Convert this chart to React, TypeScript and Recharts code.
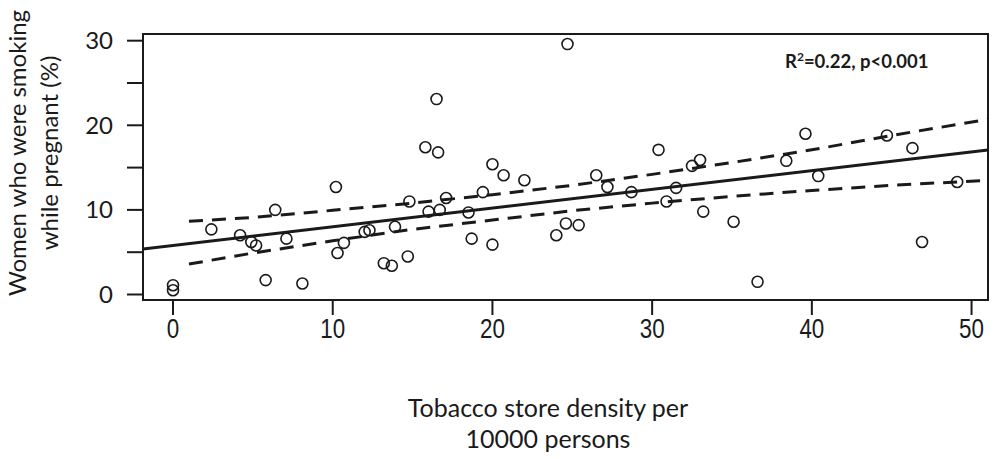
import React from 'react';
import { ScatterChart, Scatter, XAxis, YAxis, ReferenceArea } from 'recharts';

// tobacco store density per 10000 persons (x) vs % women smoking while pregnant (y)
const density = [
  0, 0, 2.4, 4.2, 4.9, 5.2, 5.8, 6.4, 7.1, 8.1,
  10.2, 10.3, 10.7, 12.0, 12.3, 13.2, 13.7, 13.9, 14.7, 14.8,
  15.8, 16.0, 16.5, 16.6, 16.7, 17.1, 18.5, 18.7, 19.4, 20.0,
  20.0, 20.7, 22.0, 24.0, 24.6, 24.7, 25.4, 26.5, 27.2, 28.7,
  30.4, 30.9, 31.5, 32.5, 33.0, 33.2, 35.1, 36.6, 38.4, 39.6,
  40.4, 44.7, 46.3, 46.9, 49.1,
];
const smoking = [
  1.1, 0.5, 7.7, 7.0, 6.2, 5.8, 1.7, 10.0, 6.6, 1.3,
  12.7, 4.9, 6.1, 7.4, 7.6, 3.7, 3.4, 8.0, 4.5, 11.0,
  17.4, 9.8, 23.1, 16.8, 10.0, 11.4, 9.7, 6.6, 12.1, 15.4,
  5.9, 14.1, 13.5, 7.0, 8.4, 29.6, 8.2, 14.1, 12.7, 12.1,
  17.1, 11.0, 12.6, 15.2, 15.9, 9.8, 8.6, 1.5, 15.8, 19.0,
  14.0, 18.8, 17.3, 6.2, 13.3,
];

// fitted line and confidence band
const fitX = [-1.88, 51.03];
const fitY = [5.38, 17.08];
const bandX = [1, 5, 10, 15, 20, 25, 30, 35, 40, 45, 51.03];
const bandUpper = [8.65, 9.1, 9.95, 10.8, 11.8, 12.9, 14.2, 15.6, 17.1, 18.8, 20.7];
const bandLower = [3.6, 4.9, 6.35, 7.7, 8.8, 9.9, 10.8, 11.6, 12.3, 12.9, 13.5];

const xTicks = [0, 10, 20, 30, 40, 50];
const yTicks = [0, 5, 10, 15, 20, 25, 30];

const X_DOMAIN: [number, number] = [-1.88, 51.03];
const Y_DOMAIN: [number, number] = [-0.65, 30.79];

const points = density.map((x, i) => ({ x, y: smoking[i] }));
const fit = fitX.map((x, i) => ({ x, y: fitY[i] }));
const upper = bandX.map((x, i) => ({ x, y: bandUpper[i] }));
const lower = bandX.map((x, i) => ({ x, y: bandLower[i] }));

const INK = '#1a1a1a';
const LABEL_FONT = 'Lato, "Open Sans", sans-serif';

const OpenCircle = (props: any) => (
  <circle cx={props.cx} cy={props.cy} r={5.5} fill="none" stroke={INK} strokeWidth={1.6} />
);
const NoDot = () => <g />;

// narrow, tall digits like the original x axis
const NarrowTick = (props: any) => {
  const { x, y, payload } = props;
  return (
    <text
      transform={`translate(${x},${y}) scale(0.8,1)`}
      textAnchor="middle"
      dy="0.71em"
      fontSize={28}
      fontFamily='"Liberation Sans", Arial, sans-serif'
      fill={INK}
    >
      {payload.value}
    </text>
  );
};

export default function App() {
  return (
    <div style={{ position: 'absolute', left: 0, top: 0, width: 993, height: 459, background: '#fff' }}>
      <ScatterChart width={993} height={459} margin={{ top: 34, right: 5, bottom: 119, left: 83 }}>
        <XAxis
          type="number"
          dataKey="x"
          domain={X_DOMAIN}
          allowDataOverflow
          ticks={xTicks}
          height={40}
          axisLine={false}
          tickSize={15}
          tickMargin={3}
          tickLine={{ stroke: INK, strokeWidth: 2 }}
          tick={NarrowTick}
        />
        <YAxis
          type="number"
          dataKey="y"
          domain={Y_DOMAIN}
          allowDataOverflow
          ticks={yTicks}
          width={60}
          axisLine={false}
          tickSize={16}
          tickMargin={14}
          tickLine={{ stroke: INK, strokeWidth: 2 }}
          tickFormatter={(v: number) => (v % 10 === 0 ? String(v) : '')}
          tick={{ fill: INK, fontSize: 24, fontFamily: LABEL_FONT }}
        />
        <ReferenceArea
          x1={X_DOMAIN[0]}
          x2={X_DOMAIN[1]}
          y1={Y_DOMAIN[0]}
          y2={Y_DOMAIN[1]}
          fill="none"
          stroke={INK}
          strokeWidth={2}
          ifOverflow="visible"
        />
        <Scatter
          data={upper}
          shape={NoDot}
          line={{ stroke: INK, strokeWidth: 3, strokeDasharray: '14 9' }}
          isAnimationActive={false}
        />
        <Scatter
          data={lower}
          shape={NoDot}
          line={{ stroke: INK, strokeWidth: 3, strokeDasharray: '14 9' }}
          isAnimationActive={false}
        />
        <Scatter data={fit} shape={NoDot} line={{ stroke: INK, strokeWidth: 3 }} isAnimationActive={false} />
        <Scatter data={points} shape={OpenCircle} isAnimationActive={false} />
      </ScatterChart>

      <svg
        width={993}
        height={459}
        style={{ position: 'absolute', left: 0, top: 0, pointerEvents: 'none' }}
      >
        <text x={785} y={68} fontFamily={LABEL_FONT} fontWeight={700} fontSize={18.5} fill={INK}>
          R<tspan dy={-7} fontSize={12}>2</tspan>
          <tspan dy={7}>=0.22, p&lt;0.001</tspan>
        </text>
        <g fontFamily={LABEL_FONT} fontSize={25} fill={INK} textAnchor="middle">
          <text x={548} y={417}>Tobacco store density per</text>
          <text x={548} y={448}>10000 persons</text>
        </g>
        <g fontFamily={LABEL_FONT} fontSize={24} fill={INK} textAnchor="middle">
          <text transform="translate(26,153) rotate(-90)">Women who were smoking</text>
          <text transform="translate(58,153) rotate(-90)">while pregnant (%)</text>
        </g>
      </svg>
    </div>
  );
}
